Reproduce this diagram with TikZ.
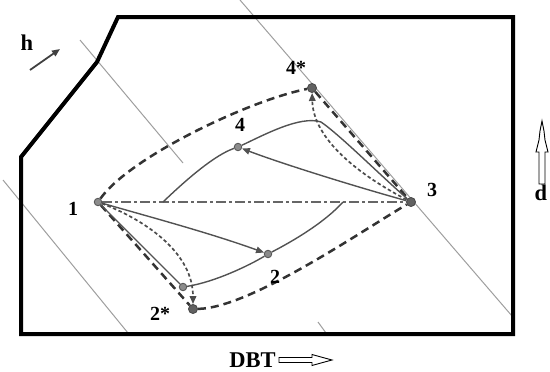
\documentclass[tikz,border=0pt]{standalone}
\usepackage{fontspec}
\setmainfont{Liberation Serif}
\usetikzlibrary{arrows.meta}
\begin{document}
\begin{tikzpicture}[x=1pt,y=-1pt,
  lbl/.style={font=\fontsize{20}{20}\selectfont\bfseries, inner sep=0pt},
  biglbl/.style={font=\fontsize{22.5}{22.5}\selectfont\bfseries, inner sep=0pt},
  ptlight/.style={circle, draw=black!65, fill=black!45, line width=0.9pt, minimum size=7.5pt, inner sep=0pt},
  ptdark/.style={circle, draw=black!70, fill=black!62, line width=0.9pt, minimum size=9pt, inner sep=0pt},
  guide/.style={draw=black!38, line width=1pt},
  frame/.style={draw=black, line width=4pt, line join=miter},
  bigdash/.style={draw=black!80, line width=2.5pt, dash pattern=on 8pt off 5pt},
  finedash/.style={draw=black!70, line width=1.7pt, dash pattern=on 3.5pt off 2.5pt},
  curve/.style={draw=black!68, line width=1.4pt},
  centerline/.style={draw=black!60, line width=1.7pt, dash pattern=on 10pt off 3pt on 3pt off 3pt},
  tip/.style={-{Triangle[length=8pt,width=6.5pt]}},
  hollow/.style={draw=black, line width=0.9pt, fill=white},
]
\useasboundingbox (0,0) rectangle (550,372);

% thin guide lines across the field
\draw[guide] (80,40) -- (183,163);
\draw[guide] (240,0) -- (512,316);
\draw[guide] (3,180) -- (128,333);
\draw[guide] (318,322) -- (326,333);

% outer boundary
\draw[frame] (118,17) -- (513,17) -- (513,334) -- (21,334) -- (21,157) -- (97,62) -- cycle;

% states
\node[ptlight] (n1) at (98,202) {};
\node[ptdark]  (n3) at (411,202) {};
\node[ptlight] (n4) at (238,147) {};
\node[ptdark]  (n4s) at (312,88) {};
\node[ptlight] (n2) at (268,254) {};
\node[ptlight] (n2a) at (183,287) {};
\node[ptdark]  (n2s) at (193,309) {};
\coordinate (c4) at (163,202);
\coordinate (c2) at (343,202);
\coordinate (pk) at (321,122);

% axis 1-3
\draw[centerline] (n1) -- (n3);

% outer envelope
\draw[bigdash] (n1) .. controls (130,157) and (250,100) .. (n4s);
\draw[bigdash] (n4s) -- (n3);
\draw[bigdash] (n1) -- (n2s);
\draw[bigdash] (n2s) .. controls (250,308) and (360,232) .. (n3);

% inner leaf
\draw[curve] (c4) .. controls (188,178) and (215,155) .. (n4);
\draw[curve] (n4) .. controls (262,136) and (300,115) .. (pk);
\draw[curve] (pk) .. controls (340,135) and (380,175) .. (n3);
\draw[curve] (n1) -- (n2a);
\draw[curve] (n2a) .. controls (215,282) and (250,265) .. (n2);
\draw[curve] (n2) .. controls (295,240) and (325,222) .. (c2);

% transitions
\draw[curve,tip] (n1) .. controls (150,217) and (210,233) .. (n2);
\draw[curve,tip] (n3) .. controls (350,185) and (280,163) .. (n4);
\draw[finedash,tip] (n1) .. controls (150,222) and (193,255) .. (n2s);
\draw[finedash,tip] (n3) .. controls (350,170) and (313,135) .. (n4s);

% labels
\node[lbl] (l1) at (73,209) {1};
\node[lbl] (l2) at (275,277) {2};
\node[lbl] (l2s) at (160,314) {2*};
\node[lbl] (l3) at (432,190) {3};
\node[lbl] (l4) at (240,125) {4};
\node[lbl] (l4s) at (296,68) {4*};

% direction markers
\node[biglbl] (lh) at (27,43) {h};
\coordinate (h0) at (30,70);
\coordinate (h1) at (60,49);
\draw[draw=black!75, line width=1.8pt, -{Triangle[length=8pt,width=6.5pt]}] (h0) -- (h1);

\node[biglbl] (ld) at (541,193) {d};
\draw[hollow] (539,184) -- (545,184) -- (545,152) -- (548,152) -- (545,140) -- (544,131)
  -- (542,121) -- (540,131) -- (539,140) -- (536,152) -- (539,152) -- cycle;

\node[biglbl] (ldbt) at (252.5,360) {DBT};
\draw[hollow] (279,357.5) -- (312,357.5) -- (312,354.5) -- (321,357) -- (332,360)
  -- (321,363) -- (312,365.5) -- (312,362.5) -- (279,362.5) -- cycle;
\end{tikzpicture}
\end{document}
